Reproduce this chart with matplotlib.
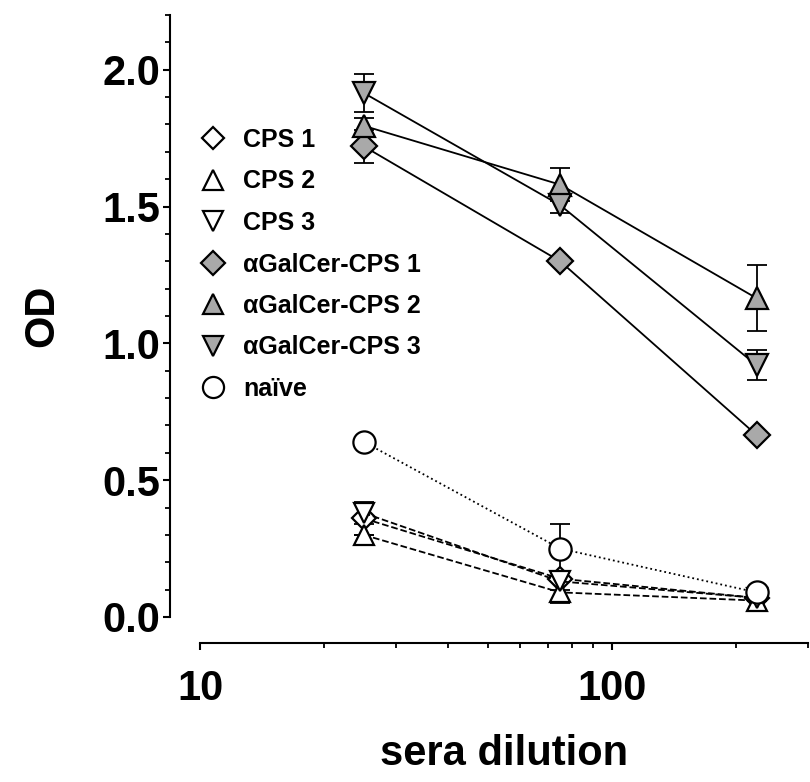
import matplotlib
matplotlib.use("Agg")
import matplotlib.pyplot as plt
from matplotlib.lines import Line2D
from matplotlib.ticker import FixedLocator, NullFormatter, MultipleLocator, FormatStrFormatter

plt.rcParams['font.family'] = ['Liberation Sans', 'DejaVu Sans']

dilution = [25, 75, 225]

cps1 = [0.36, 0.14, 0.07]
cps1_err = [0.0, 0.0, 0.0]
cps2 = [0.30, 0.09, 0.06]
cps2_err = [0.0, 0.04, 0.0]
cps3 = [0.38, 0.13, 0.07]
cps3_err = [0.04, 0.03, 0.0]
ag1 = [1.72, 1.30, 0.665]
ag1_err = [0.06, 0.0, 0.0]
ag2 = [1.795, 1.58, 1.165]
ag2_err = [0.03, 0.06, 0.12]
ag3 = [1.915, 1.505, 0.92]
ag3_err = [0.07, 0.03, 0.055]
naive = [0.64, 0.25, 0.09]
naive_err = [0.0, 0.09, 0.0]

labels = ["CPS 1", "CPS 2", "CPS 3", "αGalCer-CPS 1", "αGalCer-CPS 2",
          "αGalCer-CPS 3", "naïve"]
x_ticks = [10, 100]
y_ticks = [0.0, 0.5, 1.0, 1.5, 2.0]

W, H = 810, 782
fig = plt.figure(figsize=(W / 100, H / 100), dpi=100)
ax = fig.add_axes([200 / W, 1 - 617 / H, 608 / W, 602 / H])

gray = '#a9a9a9'
series = [
    (cps1, cps1_err, 'D', 'white', '--', 12),
    (cps2, cps2_err, '^', 'white', '--', 15),
    (cps3, cps3_err, 'v', 'white', '--', 15),
    (naive, naive_err, 'o', 'white', ':', 16),
    (ag1, ag1_err, 'D', gray, '-', 13),
    (ag2, ag2_err, '^', gray, '-', 15.5),
    (ag3, ag3_err, 'v', gray, '-', 15.5),
]
for vals, err, mk, fc, ls, ms in series:
    ax.errorbar(dilution, vals, yerr=err, fmt='none', ecolor='black',
                elinewidth=1.3, capsize=7, capthick=1.3, zorder=2)
    ax.plot(dilution, vals, linestyle=ls, color='black', linewidth=1.3,
            marker=mk, markersize=ms, markerfacecolor=fc,
            markeredgecolor='black', markeredgewidth=1.6, zorder=3)

ax.set_xscale('log')
ax.set_xlim(10, 300)
ax.set_ylim(0, 2.2)

ax.xaxis.set_major_locator(FixedLocator(x_ticks))
ax.xaxis.set_major_formatter(FormatStrFormatter('%d'))
ax.xaxis.set_minor_locator(FixedLocator([20, 30, 40, 50, 60, 70, 80, 90, 200, 300]))
ax.xaxis.set_minor_formatter(NullFormatter())
ax.yaxis.set_major_locator(FixedLocator(y_ticks))
ax.yaxis.set_major_formatter(FormatStrFormatter('%.1f'))
ax.yaxis.set_minor_locator(MultipleLocator(0.1))

for s in ['top', 'right']:
    ax.spines[s].set_visible(False)
ax.spines['left'].set_position(('outward', 30 * 72 / 100))
ax.spines['bottom'].set_position(('outward', 26 * 72 / 100))
ax.spines['left'].set_linewidth(1.5)
ax.spines['bottom'].set_linewidth(1.5)
ax.tick_params(which='major', direction='out', length=5, width=1.5,
               labelsize=30)
ax.tick_params(axis='y', which='major', pad=2)
ax.tick_params(axis='x', which='major', pad=14)
ax.tick_params(which='minor', direction='out', length=3.5, width=1.3)
for lab in ax.get_xticklabels() + ax.get_yticklabels():
    lab.set_fontweight('bold')

ax.set_ylabel('OD', fontsize=30, fontweight='bold', labelpad=29)
ax.set_xlabel('sera dilution', fontsize=30, fontweight='bold', labelpad=18)

markers = ['D', '^', 'v', 'D', '^', 'v', 'o']
fcs = ['white', 'white', 'white', gray, gray, gray, 'white']
sizes = [12, 15, 15, 13, 15.5, 15.5, 16]
handles = [Line2D([], [], linestyle='none', marker=m, markersize=s * 0.95,
                  markerfacecolor=f, markeredgecolor='black', markeredgewidth=1.6)
           for m, f, s in zip(markers, fcs, sizes)]
leg = fig.legend(handles, labels, loc='upper left',
                 bbox_to_anchor=(200 / W, 1 - 128 / H), frameon=False,
                 prop={'weight': 'bold', 'size': 18}, handlelength=1.0,
                 handletextpad=0.72, labelspacing=0.7, borderpad=0,
                 borderaxespad=0)

fig.savefig('out.png', dpi=100, facecolor='white')
